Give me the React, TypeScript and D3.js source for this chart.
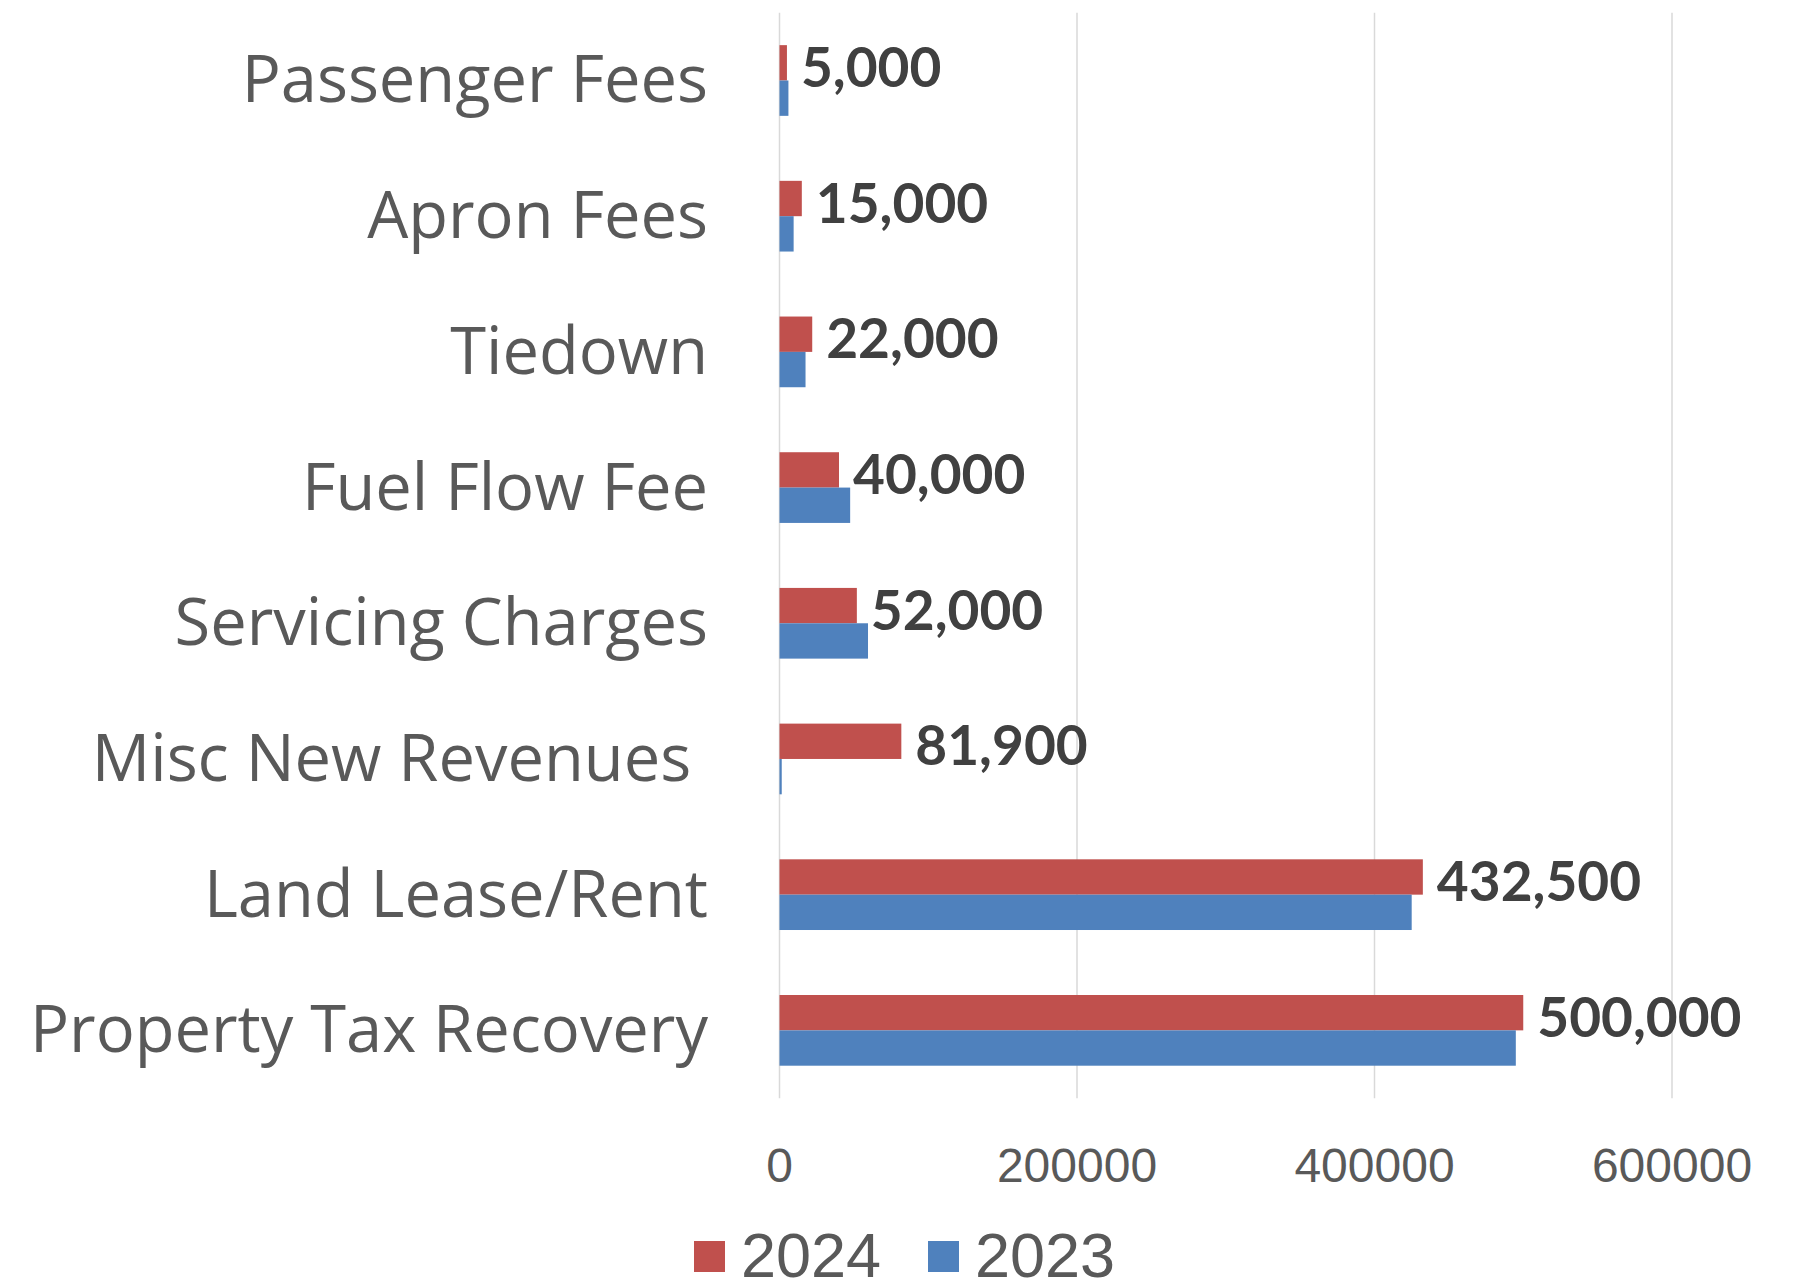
import React from "react";
import * as d3 from "d3";

// values
const categories = [
  "Passenger Fees",
  "Apron Fees",
  "Tiedown",
  "Fuel Flow Fee",
  "Servicing Charges",
  "Misc New Revenues ",
  "Land Lease/Rent",
  "Property Tax Recovery",
];
const values2024 = [5000, 15000, 22000, 40000, 52000, 81900, 432500, 500000];
const values2023 = [6000, 9500, 17500, 47500, 59500, 1500, 425000, 495000];
const seriesNames = ["2024", "2023"];
const seriesColors = ["#C0504D", "#4F81BD"];
const xTicks = [0, 200000, 400000, 600000];

const W = 1794;
const H = 1280;

const App = () => {
  const svgRef = React.useRef(null);

  React.useEffect(() => {
    const svg = d3.select(svgRef.current);
    svg.selectAll("*").remove();

    const xScale = d3.scaleLinear().domain([0, 600000]).range([779.5, 1672]);
    const yScale = d3
      .scaleBand()
      .domain(categories)
      .range([12.65, 1098.2])
      .paddingInner(0.479)
      .paddingOuter(0.2395);
    const inner = d3
      .scaleBand()
      .domain(seriesNames)
      .range([0, yScale.bandwidth()]);

    // grid lines
    svg
      .append("g")
      .selectAll("line")
      .data(xTicks)
      .enter()
      .append("line")
      .attr("x1", (d) => xScale(d))
      .attr("x2", (d) => xScale(d))
      .attr("y1", 12.65)
      .attr("y2", 1098.2)
      .attr("stroke", "#d9d9d9")
      .attr("stroke-width", 1.5);

    // tick labels
    svg
      .append("g")
      .selectAll("text")
      .data(xTicks)
      .enter()
      .append("text")
      .attr("x", (d) => xScale(d))
      .attr("y", 1182)
      .attr("text-anchor", "middle")
      .attr("font-family", "Liberation Sans, Arial, sans-serif")
      .attr("font-size", 48)
      .attr("fill", "#595959")
      .text((d) => `${d}`);

    const rows = categories.map((c, i) => ({
      cat: c,
      vals: [values2024[i], values2023[i]],
    }));

    const groups = svg
      .append("g")
      .selectAll("g")
      .data(rows)
      .enter()
      .append("g")
      .attr("transform", (d) => `translate(0,${yScale(d.cat)})`);

    groups
      .selectAll("rect")
      .data((d) => d.vals.map((v, j) => ({ v, s: seriesNames[j], color: seriesColors[j] })))
      .enter()
      .append("rect")
      .attr("x", xScale(0))
      .attr("y", (d) => inner(d.s))
      .attr("width", (d) => xScale(d.v) - xScale(0))
      .attr("height", inner.bandwidth())
      .attr("fill", (d) => d.color);

    // data labels for 2024 only
    groups
      .append("text")
      .attr("x", (d) => xScale(d.vals[0]) + 14)
      .attr("y", inner("2024") + inner.bandwidth() / 2 + 24)
      .attr("font-family", "Lato, sans-serif")
      .attr("font-weight", "bold")
      .attr("font-size", 55)
      .attr("fill", "#404040")
      .text((d) => d3.format(",")(d.vals[0]));

    // category labels
    svg
      .append("g")
      .selectAll("text")
      .data(categories)
      .enter()
      .append("text")
      .attr("x", 708)
      .attr("y", (d) => yScale(d) + yScale.bandwidth() / 2 + 22)
      .attr("text-anchor", "end")
      .attr("font-family", "Open Sans, sans-serif")
      .attr("font-size", 65)
      .attr("fill", "#595959")
      .style("white-space", "pre")
      .text((d) => d);

    // legend
    const legendX = [694, 928];
    const legend = svg
      .append("g")
      .selectAll("g")
      .data(seriesNames)
      .enter()
      .append("g")
      .attr("transform", (d, i) => `translate(${legendX[i]},1241)`);
    legend
      .append("rect")
      .attr("width", 31)
      .attr("height", 31)
      .attr("fill", (d, i) => seriesColors[i]);
    legend
      .append("text")
      .attr("x", 47)
      .attr("y", 36)
      .attr("font-family", "Liberation Sans, Arial, sans-serif")
      .attr("font-size", 63)
      .attr("fill", "#595959")
      .text((d) => d);
  }, []);

  return (
    <svg
      ref={svgRef}
      width={W}
      height={H}
      style={{ position: "absolute", left: 0, top: 0, background: "#fff" }}
    />
  );
};

export default App;
